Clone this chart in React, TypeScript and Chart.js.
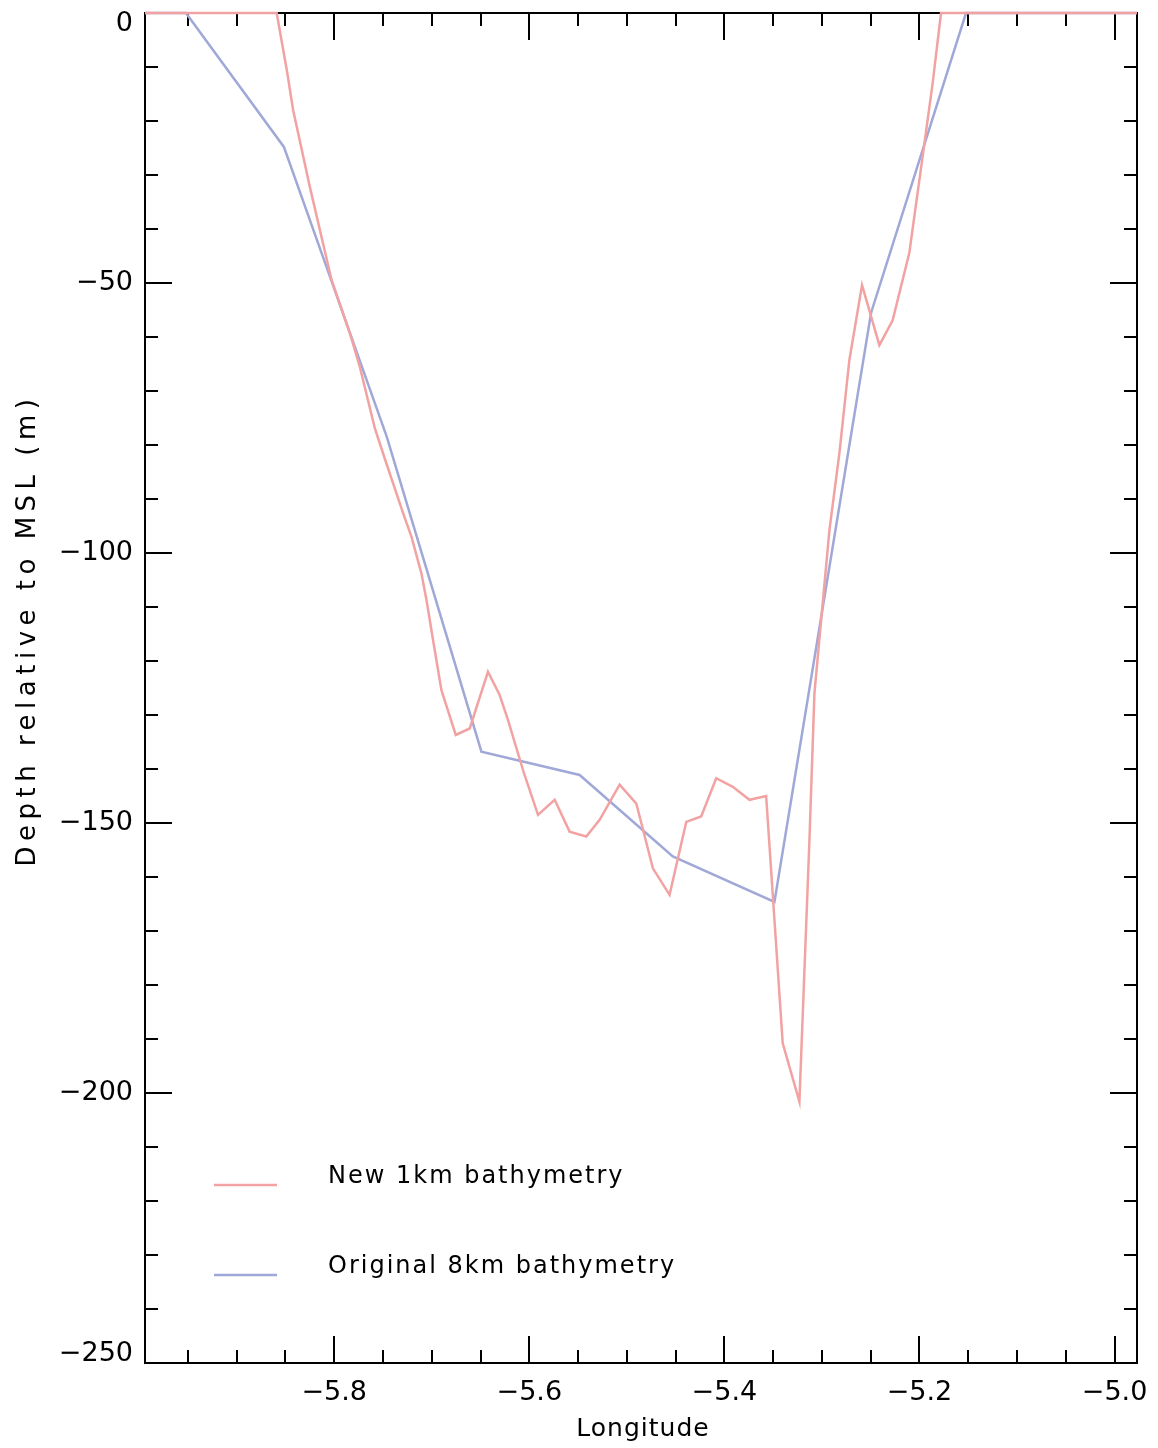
import React, { useEffect, useRef } from "react";
import { Chart, registerables } from "chart.js";

Chart.register(...registerables);

// ---- Data ----
const RED_LABEL = "New 1km bathymetry";
const RED_X = [
  -5.994, -5.859, -5.8485, -5.8421, -5.825, -5.8028, -5.784, -5.7738, -5.7584, -5.7482,
  -5.7294, -5.7208, -5.7106, -5.7054, -5.6987, -5.6901, -5.6754, -5.6611, -5.6424, -5.6304,
  -5.6219, -5.6058, -5.5911, -5.574, -5.5587, -5.5416, -5.5279, -5.5074, -5.4903, -5.4733,
  -5.4562, -5.4391, -5.4238, -5.4084, -5.3914, -5.3743, -5.3572, -5.3402, -5.3231, -5.3128,
  -5.3077, -5.3008, -5.2923, -5.2821, -5.2719, -5.2589, -5.2411, -5.2275, -5.2104, -5.1968,
  -5.1865, -5.1779, -4.977,
];
const RED_Y = [
  0, 0, -10.7, -18.0, -32.2, -49.4, -59.3, -65.5, -76.9, -82.5,
  -92.6, -97.0, -103.8, -108.7, -116.1, -125.4, -133.7, -132.5, -122.0, -126.3,
  -130.9, -140.6, -148.5, -145.7, -151.6, -152.5, -149.4, -142.9, -146.4, -158.4,
  -163.3, -149.8, -148.8, -141.7, -143.3, -145.7, -145.0, -190.8, -201.6, -153.1,
  -126.0, -112.4, -95.7, -81.5, -64.3, -50.4, -61.5, -56.9, -44.4, -26.6,
  -13.0, 0, 0,
];

const BLUE_LABEL = "Original 8km bathymetry";
const BLUE_X = [-5.994, -5.952, -5.8516, -5.7461, -5.6491, -5.5484, -5.4529, -5.3487, -5.2496, -5.1523, -5.05, -4.977];
const BLUE_Y = [0, 0, -24.8, -78.5, -136.8, -141.1, -156.2, -164.6, -55.5, 0, 0, 0];

// ---- Axes ----
const X_MIN = -5.994;
const X_MAX = -4.977;
const Y_MIN = -250;
const Y_MAX = 0;
const X_MAJOR = [-5.8, -5.6, -5.4, -5.2, -5.0];
const X_MINOR = [-5.95, -5.9, -5.85, -5.75, -5.7, -5.65, -5.55, -5.5, -5.45, -5.35, -5.3, -5.25, -5.15, -5.1, -5.05];
const Y_MAJOR = [0, -50, -100, -150, -200, -250];
const Y_MINOR = [
  -10, -20, -30, -40, -60, -70, -80, -90, -110, -120, -130, -140,
  -160, -170, -180, -190, -210, -220, -230, -240,
];
const X_TITLE = "Longitude";
const Y_TITLE = "Depth relative to MSL (m)";

const RED = "#f2a2a2";
const BLUE = "#a0a8d8";
const FONT = '"DejaVu Sans", sans-serif';

const fmtX = (v: number) => "\u2212" + Math.abs(v).toFixed(1);
const fmtY = (v: number) => (v === 0 ? "0" : "\u2212" + Math.abs(v));

const framePlugin = {
  id: "idlFrame",
  beforeDatasetsDraw(chart: any) {
    const { ctx, chartArea: a, scales } = chart;
    const xs = scales.x;
    const ys = scales.y;
    ctx.save();
    ctx.strokeStyle = "#000";
    ctx.lineWidth = 2;
    ctx.lineCap = "butt";
    ctx.strokeRect(a.left, a.top, a.right - a.left, a.bottom - a.top);
    const MAJ = 27;
    const MIN = 13;
    ctx.beginPath();
    const xt = (vals: number[], len: number) => {
      vals.forEach((v) => {
        const p = Math.round(xs.getPixelForValue(v));
        ctx.moveTo(p, a.top);
        ctx.lineTo(p, a.top + len);
        ctx.moveTo(p, a.bottom);
        ctx.lineTo(p, a.bottom - len);
      });
    };
    const yt = (vals: number[], len: number) => {
      vals.forEach((v) => {
        const p = Math.round(ys.getPixelForValue(v));
        ctx.moveTo(a.left, p);
        ctx.lineTo(a.left + len, p);
        ctx.moveTo(a.right, p);
        ctx.lineTo(a.right - len, p);
      });
    };
    xt(X_MAJOR, MAJ);
    xt(X_MINOR, MIN);
    yt(Y_MAJOR, MAJ);
    yt(Y_MINOR, MIN);
    ctx.stroke();
    ctx.restore();
  },
  afterDraw(chart: any) {
    const { ctx, chartArea: a, scales } = chart;
    const xs = scales.x;
    const ys = scales.y;
    ctx.save();
    ctx.fillStyle = "#000";
    // tick labels
    ctx.font = `27px ${FONT}`;
    ctx.textBaseline = "middle";
    ctx.textAlign = "center";
    X_MAJOR.forEach((v) => {
      ctx.fillText(fmtX(v), xs.getPixelForValue(v), a.bottom + 30);
    });
    ctx.textAlign = "right";
    Y_MAJOR.forEach((v) => {
      let p = ys.getPixelForValue(v);
      p = Math.max(a.top + 11, Math.min(a.bottom - 9, p));
      ctx.fillText(fmtY(v), a.left - 12, p);
    });
    // axis titles
    ctx.textAlign = "center";
    ctx.font = `25px ${FONT}`;
    (ctx as any).letterSpacing = "1px";
    ctx.fillText(X_TITLE, (a.left + a.right) / 2 + 2, a.bottom + 66);
    ctx.save();
    ctx.translate(28, 630);
    ctx.rotate(-Math.PI / 2);
    ctx.font = `26px ${FONT}`;
    (ctx as any).letterSpacing = "5.5px";
    ctx.fillText(Y_TITLE, 0, 0);
    ctx.restore();
    // legend
    const ds = chart.data.datasets;
    const rows = [
      { d: ds[0], ly: 1185, ty: 1177 },
      { d: ds[1], ly: 1275, ty: 1267 },
    ];
    rows.forEach((r) => {
      ctx.strokeStyle = r.d.borderColor;
      ctx.lineWidth = 2.5;
      ctx.beginPath();
      ctx.moveTo(214, r.ly);
      ctx.lineTo(277, r.ly);
      ctx.stroke();
      ctx.textAlign = "left";
      ctx.textBaseline = "middle";
      ctx.font = `24px ${FONT}`;
      (ctx as any).letterSpacing = "2px";
      ctx.fillText(r.d.label, 328, r.ty);
    });
    ctx.restore();
  },
};

export default function App() {
  const ref = useRef<HTMLCanvasElement | null>(null);
  useEffect(() => {
    document.body.style.margin = "0";
    const canvas = ref.current;
    if (!canvas) return;
    const chart = new Chart(canvas, {
      type: "scatter",
      data: {
        datasets: [
          {
            label: RED_LABEL,
            data: RED_X.map((x, i) => ({ x, y: RED_Y[i] })),
            borderColor: RED,
            backgroundColor: RED,
            borderWidth: 2.5,
            showLine: true,
            pointRadius: 0,
            tension: 0,
            clip: false,
            order: 0,
          } as any,
          {
            label: BLUE_LABEL,
            data: BLUE_X.map((x, i) => ({ x, y: BLUE_Y[i] })),
            borderColor: BLUE,
            backgroundColor: BLUE,
            borderWidth: 2.5,
            showLine: true,
            pointRadius: 0,
            tension: 0,
            clip: false,
            order: 1,
          } as any,
        ],
      },
      options: {
        responsive: false,
        animation: false,
        devicePixelRatio: 1,
        layout: { padding: { left: 145, top: 13, right: 21, bottom: 85 } },
        scales: {
          x: { type: "linear", min: X_MIN, max: X_MAX, display: false },
          y: { type: "linear", min: Y_MIN, max: Y_MAX, display: false },
        },
        plugins: {
          legend: { display: false },
          tooltip: { enabled: false },
        },
        events: [],
      },
      plugins: [framePlugin],
    });
    return () => chart.destroy();
  }, []);
  return (
    <div style={{ position: "absolute", left: 0, top: 0, width: 1158, height: 1448, background: "#fff" }}>
      <canvas ref={ref} width={1158} height={1448} style={{ display: "block" }} />
    </div>
  );
}
